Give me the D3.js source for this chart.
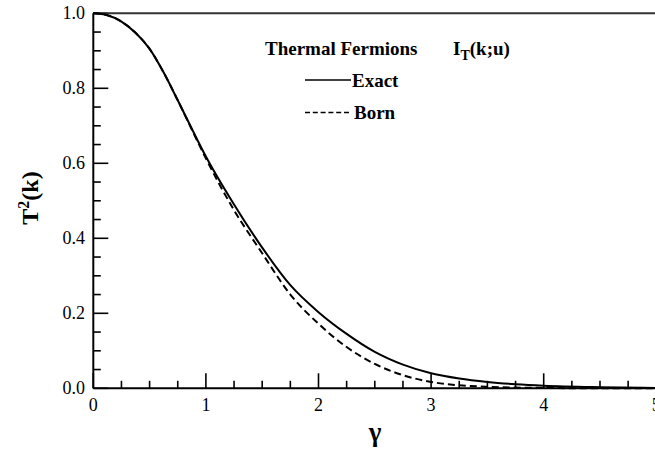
<!DOCTYPE html>
<html><head><meta charset="utf-8">
<script src="https://cdn.jsdelivr.net/npm/d3@7"></script>
<style>html,body{margin:0;padding:0;background:#fff;}svg{display:block;}
text{font-family:"Liberation Serif","DejaVu Serif",serif;}</style>
</head><body>
<script>
const gamma = [0, 0.125, 0.25, 0.375, 0.5, 0.625, 0.75, 0.875, 1.0, 1.25, 1.5, 1.75, 2.0, 2.25, 2.5, 2.75, 3.0, 3.25, 3.5, 3.75, 4.0, 4.5, 5.0];
const exact = [1.000, 0.995, 0.978, 0.948, 0.905, 0.842, 0.768, 0.692, 0.618, 0.490, 0.375, 0.275, 0.203, 0.145, 0.097, 0.063, 0.040, 0.026, 0.017, 0.011, 0.007, 0.003, 0.001];
const born  = [1.000, 0.995, 0.978, 0.948, 0.905, 0.842, 0.768, 0.690, 0.613, 0.475, 0.360, 0.250, 0.172, 0.110, 0.065, 0.035, 0.017, 0.008, 0.004, 0.002, 0.001, 0.000, 0.000];
const xTicks = [0, 1, 2, 3, 4, 5];
const yTicks = [0.0, 0.2, 0.4, 0.6, 0.8, 1.0];

const W = 655, H = 449;
const svg = d3.select("body").append("svg").attr("width", W).attr("height", H);
const x = d3.scaleLinear().domain([0, 5]).range([93.3, 656.3]);
const y = d3.scaleLinear().domain([0, 1]).range([388.3, 13.3]);

const xMinor = d3.range(0, 5.001, 0.25).filter(v => Math.abs(v - Math.round(v)) > 1e-6);
const yMinor = d3.range(0, 1.001, 0.05).filter(v => Math.abs(v * 5 - Math.round(v * 5)) > 1e-6);

const g = svg.append("g");
g.selectAll(".xmaj").data(xTicks).join("line")
  .attr("x1", d => x(d)).attr("x2", d => x(d)).attr("y1", y(0)).attr("y2", y(0) - 15)
  .attr("stroke", "#000").attr("stroke-width", 1.6);
g.selectAll(".xmin").data(xMinor).join("line")
  .attr("x1", d => x(d)).attr("x2", d => x(d)).attr("y1", y(0)).attr("y2", y(0) - 7.5)
  .attr("stroke", "#000").attr("stroke-width", 1.6);
g.selectAll(".ymaj").data(yTicks).join("line")
  .attr("x1", x(0)).attr("x2", x(0) + 15).attr("y1", d => y(d)).attr("y2", d => y(d))
  .attr("stroke", "#000").attr("stroke-width", 1.6);
g.selectAll(".ymin").data(yMinor).join("line")
  .attr("x1", x(0)).attr("x2", x(0) + 7.5).attr("y1", d => y(d)).attr("y2", d => y(d))
  .attr("stroke", "#000").attr("stroke-width", 1.6);

g.append("line").attr("x1", x(0)).attr("x2", W).attr("y1", y(0)).attr("y2", y(0)).attr("stroke", "#000").attr("stroke-width", 2);
g.append("line").attr("x1", x(0)).attr("x2", W).attr("y1", y(1)).attr("y2", y(1)).attr("stroke", "#333").attr("stroke-width", 2);
g.append("line").attr("x1", x(0)).attr("x2", x(0)).attr("y1", y(0)).attr("y2", y(1)).attr("stroke", "#000").attr("stroke-width", 2);

g.selectAll(".xl").data(xTicks).join("text")
  .attr("x", d => x(d)).attr("y", 411).attr("text-anchor", "middle")
  .attr("font-size", 18).text(d => d3.format("d")(d));
g.selectAll(".yl").data(yTicks).join("text")
  .attr("x", 85).attr("y", d => y(d) + 6).attr("text-anchor", "end")
  .attr("font-size", 18).text(d => d3.format(".1f")(d));

const line = d3.line().x(d => x(d[0])).y(d => y(d[1])).curve(d3.curveMonotoneX);
svg.append("path").datum(gamma.map((v, i) => [v, exact[i]]))
  .attr("d", line).attr("fill", "none").attr("stroke", "#000").attr("stroke-width", 2);
svg.append("path").datum(gamma.map((v, i) => [v, born[i]]))
  .attr("d", line).attr("fill", "none").attr("stroke", "#000").attr("stroke-width", 2)
  .attr("stroke-dasharray", "7,4");

const yt = svg.append("text").attr("transform", "translate(38,198) rotate(-90)")
  .attr("text-anchor", "middle").attr("font-weight", "bold").attr("font-size", 24);
yt.append("tspan").text("T");
yt.append("tspan").attr("dy", -9).attr("font-size", 16).text("2");
yt.append("tspan").attr("dy", 9).text("(k)");
svg.append("text").attr("x", 375).attr("y", 441).attr("text-anchor", "middle")
  .attr("font-weight", "bold").attr("font-size", 27).text("γ");

svg.append("text").attr("x", 265).attr("y", 55).attr("font-weight", "bold")
  .attr("font-size", 19).text("Thermal Fermions");
const it = svg.append("text").attr("x", 453).attr("y", 55).attr("font-weight", "bold").attr("font-size", 19);
it.append("tspan").text("I");
it.append("tspan").attr("dy", 5).attr("font-size", 14).text("T");
it.append("tspan").attr("dy", -5).text("(k;u)");
svg.append("line").attr("x1", 305).attr("x2", 351).attr("y1", 80).attr("y2", 80).attr("stroke", "#000").attr("stroke-width", 1.3);
svg.append("text").attr("x", 352).attr("y", 87).attr("font-weight", "bold").attr("font-size", 19).text("Exact");
svg.append("line").attr("x1", 305).attr("x2", 349).attr("y1", 112.5).attr("y2", 112.5).attr("stroke", "#000").attr("stroke-width", 1.3).attr("stroke-dasharray", "5,2.8");
svg.append("text").attr("x", 354).attr("y", 119).attr("font-weight", "bold").attr("font-size", 19).text("Born");
</script>
</body></html>
